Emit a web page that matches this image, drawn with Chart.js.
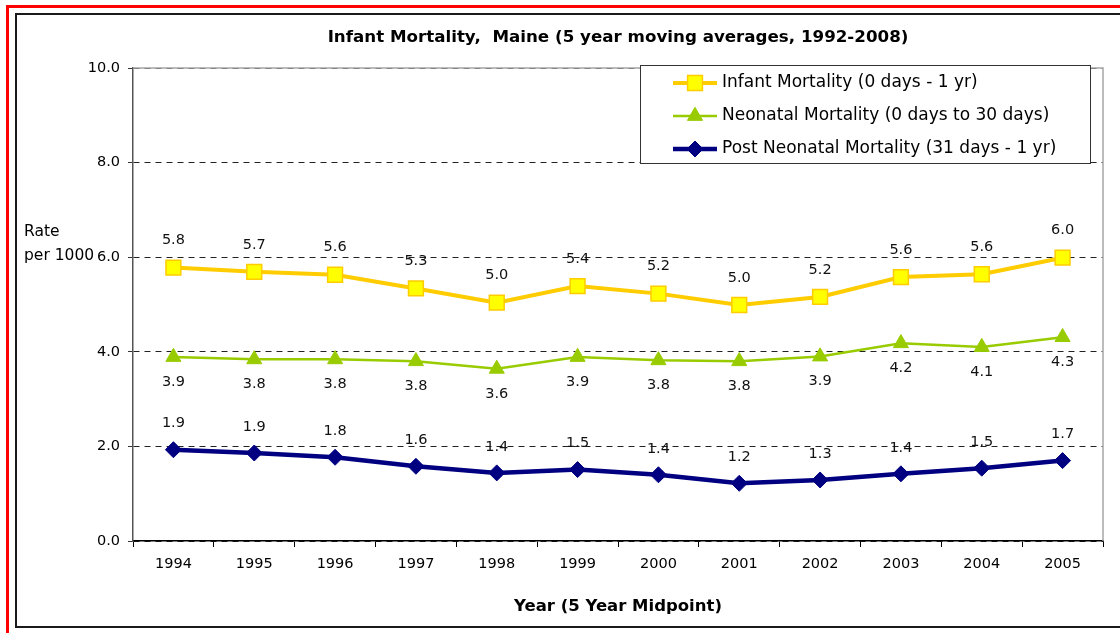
<!DOCTYPE html>
<html>
<head>
<meta charset="utf-8">
<script src="https://cdn.jsdelivr.net/npm/chart.js@4/dist/chart.umd.min.js"></script>
<style>
  html, body { margin: 0; padding: 0; background: #fff; overflow: hidden; width: 1120px; height: 633px; }
  #red { position: absolute; left: 6px; top: 5px; width: 1300px; height: 800px; border: 3px solid #ff0000; box-sizing: border-box; }
  #inner { position: absolute; left: 15px; top: 13px; width: 1300px; height: 615px; border: 2px solid #1a1a1a; box-sizing: border-box; }
  #wrap { position: absolute; left: 0; top: 0; width: 1120px; height: 633px; }
</style>
</head>
<body>
<div id="red"></div>
<div id="inner"></div>
<div id="wrap"><canvas id="c" width="1120" height="633"></canvas></div>
<script>
// ---- data ----
const years = ['1994','1995','1996','1997','1998','1999','2000','2001','2002','2003','2004','2005'];
const infantMortality = [5.78, 5.69, 5.63, 5.34, 5.04, 5.39, 5.23, 4.99, 5.16, 5.58, 5.64, 5.99];
const neonatalMortality = [3.89, 3.84, 3.84, 3.80, 3.64, 3.89, 3.82, 3.80, 3.90, 4.18, 4.10, 4.31];
const postNeonatalMortality = [1.93, 1.86, 1.77, 1.58, 1.44, 1.51, 1.40, 1.22, 1.29, 1.42, 1.54, 1.70];
const seriesNames = ['Infant Mortality (0 days - 1 yr)', 'Neonatal Mortality (0 days to 30 days)', 'Post Neonatal Mortality (31 days - 1 yr)'];
const yTickValues = [0, 2, 4, 6, 8, 10];
const chartTitle = 'Infant Mortality,  Maine (5 year moving averages, 1992-2008)';
const xAxisTitle = 'Year (5 Year Midpoint)';
const yAxisTitle = ['Rate', 'per 1000'];

const FONT = "'DejaVu Sans', sans-serif";
const labelOffsets = [-27, 25, -26];

function drawMarker(ctx, style, x, y, r, fill, stroke, bw) {
  if (Chart.helpers && Chart.helpers.drawPoint) {
    ctx.save();
    ctx.fillStyle = fill; ctx.strokeStyle = stroke; ctx.lineWidth = bw;
    Chart.helpers.drawPoint(ctx, {pointStyle: style, radius: r, rotation: 0, borderWidth: bw}, x, y);
    ctx.restore();
    return;
  }
  ctx.save();
  ctx.fillStyle = fill; ctx.strokeStyle = stroke; ctx.lineWidth = bw;
  ctx.beginPath();
  if (style === 'rect') {
    const s = r * Math.SQRT1_2; ctx.rect(x - s, y - s, 2 * s, 2 * s);
  } else if (style === 'triangle') {
    ctx.moveTo(x, y - r);
    ctx.lineTo(x + Math.sin(2 * Math.PI / 3) * r, y + r / 2);
    ctx.lineTo(x - Math.sin(2 * Math.PI / 3) * r, y + r / 2);
    ctx.closePath();
  } else {
    ctx.moveTo(x, y - r); ctx.lineTo(x + r, y); ctx.lineTo(x, y + r); ctx.lineTo(x - r, y); ctx.closePath();
  }
  ctx.fill(); if (bw) ctx.stroke();
  ctx.restore();
}

const decorPlugin = {
  id: 'decor',
  beforeDatasetsDraw(chart) {
    const {ctx, chartArea: a} = chart;
    ctx.save();
    ctx.strokeStyle = '#a6a6a6';
    ctx.lineWidth = 1.5;
    ctx.beginPath();
    ctx.moveTo(a.left, a.top); ctx.lineTo(a.right, a.top); ctx.lineTo(a.right, a.bottom);
    ctx.stroke();
    ctx.restore();
  },
  afterDatasetsDraw(chart) {
    const {ctx} = chart;
    ctx.save();
    ctx.font = '14.5px ' + FONT;
    ctx.fillStyle = '#111';
    ctx.textAlign = 'center';
    ctx.textBaseline = 'middle';
    chart.data.datasets.forEach((ds, i) => {
      const meta = chart.getDatasetMeta(i);
      meta.data.forEach((pt, j) => {
        ctx.fillText(ds.data[j].toFixed(1), pt.x, pt.y + labelOffsets[i]);
      });
    });
    ctx.restore();
  },
  afterDraw(chart) {
    const {ctx, chartArea: a} = chart;
    ctx.save();
    // title
    ctx.font = 'bold 16.7px ' + FONT;
    ctx.fillStyle = '#000';
    ctx.textAlign = 'center';
    ctx.textBaseline = 'middle';
    ctx.fillText(chartTitle, (a.left + a.right) / 2, 38);
    // y axis title
    ctx.font = '15.5px ' + FONT;
    ctx.textAlign = 'left';
    ctx.fillText(yAxisTitle[0], 24, 232);
    ctx.fillText(yAxisTitle[1], 24, 256);
    // legend
    const lx = 640, ly = 65, lw = 450, lh = 98;
    ctx.fillStyle = '#fff';
    ctx.fillRect(lx, ly, lw, lh);
    ctx.strokeStyle = '#333';
    ctx.lineWidth = 1;
    ctx.strokeRect(lx + 0.5, ly + 0.5, lw, lh);
    const rows = [83, 116, 149];
    chart.data.datasets.forEach((ds, i) => {
      const y = rows[i];
      ctx.strokeStyle = ds.borderColor;
      ctx.lineWidth = ds.borderWidth;
      ctx.beginPath(); ctx.moveTo(673, y); ctx.lineTo(717, y); ctx.stroke();
      drawMarker(ctx, ds.pointStyle, 695, y, ds.pointRadius, ds.pointBackgroundColor, ds.pointBorderColor, ds.pointBorderWidth);
      ctx.fillStyle = '#000';
      ctx.font = '17px ' + FONT;
      ctx.textAlign = 'left';
      ctx.textBaseline = 'middle';
      ctx.fillText(ds.label, 722, y);
    });
    ctx.restore();
  }
};

new Chart(document.getElementById('c'), {
  type: 'line',
  data: {
    labels: years,
    datasets: [
      {
        label: seriesNames[0], data: infantMortality,
        borderColor: '#ffcc00', borderWidth: 4,
        pointStyle: 'rect', pointRadius: 10.5, pointBackgroundColor: '#ffff00',
        pointBorderColor: '#ffcc00', pointBorderWidth: 1.5, tension: 0, order: 3
      },
      {
        label: seriesNames[1], data: neonatalMortality,
        borderColor: '#99cc00', borderWidth: 2.5,
        pointStyle: 'triangle', pointRadius: 8.7, pointBackgroundColor: '#99cc00',
        pointBorderColor: '#99cc00', pointBorderWidth: 1, tension: 0, order: 2
      },
      {
        label: seriesNames[2], data: postNeonatalMortality,
        borderColor: '#000080', borderWidth: 4.5,
        pointStyle: 'rectRot', pointRadius: 8, pointBackgroundColor: '#000080',
        pointBorderColor: '#000080', pointBorderWidth: 1, tension: 0, order: 1
      }
    ]
  },
  options: {
    responsive: false,
    animation: false,
    devicePixelRatio: 1,
    layout: { padding: { left: 0, top: 68, right: 17, bottom: 0 } },
    plugins: { legend: { display: false }, title: { display: false }, tooltip: { enabled: false } },
    scales: {
      x: {
        offset: true,
        afterFit: s => { s.height = 92; },
        grid: { offset: true, drawOnChartArea: false, drawTicks: true, tickLength: 6, color: '#000', lineWidth: 1 },
        border: { display: true, color: '#000', width: 1.5 },
        ticks: { font: { family: FONT, size: 14.5 }, color: '#000', padding: 9, maxRotation: 0, autoSkip: false },
        title: { display: true, text: xAxisTitle, font: { family: FONT, size: 16.5, weight: 'bold' }, color: '#000', padding: { top: 0, bottom: 16 } }
      },
      y: {
        min: 0, max: 10,
        afterFit: s => { s.width = 133; },
        afterBuildTicks: s => { s.ticks = yTickValues.map(v => ({ value: v })); },
        grid: { color: '#222', lineWidth: 1, tickLength: 5, tickColor: '#333', drawTicks: true },
        border: { display: true, color: '#555', width: 1.5, dash: [6, 5] },
        ticks: { font: { family: FONT, size: 14.5 }, color: '#000', padding: 8, callback: v => Number(v).toFixed(1) }
      }
    }
  },
  plugins: [decorPlugin]
});
</script>
</body>
</html>
